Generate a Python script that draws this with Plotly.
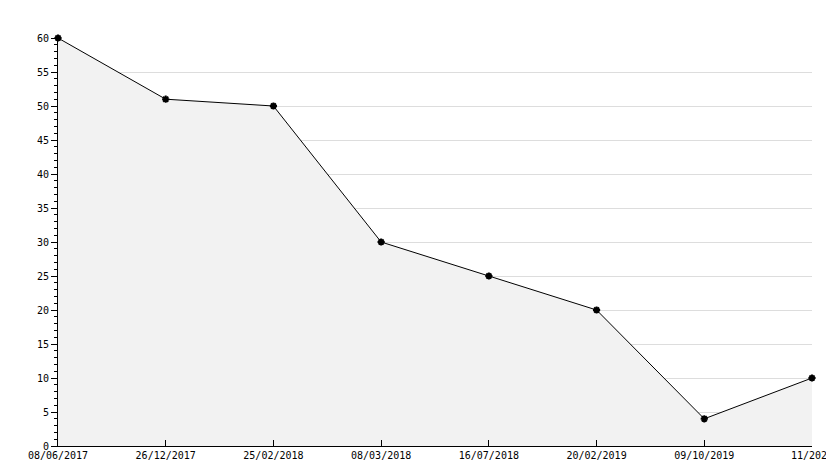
import plotly.graph_objects as go

dates = ["08/06/2017","26/12/2017","25/02/2018","08/03/2018","16/07/2018","20/02/2019","09/10/2019","11/2025"]
values = [60, 51, 50, 30, 25, 20, 4, 10]

fig = go.Figure(go.Scatter(
    x=list(range(len(dates))), y=values, mode="lines+markers",
    line=dict(color="black", width=1),
    marker=dict(symbol="asterisk-open", size=6, color="black", line=dict(width=2, color="black")),
    fill="tozeroy", fillcolor="#f2f2f2", cliponaxis=False))
fig.update_layout(
    width=834, height=468, margin=dict(l=50, r=30, t=30, b=30, autoexpand=False),
    plot_bgcolor="white", paper_bgcolor="white", showlegend=False,
    font=dict(family="DejaVu Sans Mono", size=10, color="black"))
fig.update_xaxes(tickmode="array", tickvals=list(range(len(dates))), ticktext=dates,
                 range=[0, len(dates)-1], showgrid=False, showline=True, linecolor="black",
                 ticks="inside", ticklen=6, tickcolor="black", zeroline=False, automargin=False)
fig.update_yaxes(range=[0, 60], dtick=5, showgrid=True, gridcolor="#dddddd",
                 showline=True, linecolor="black", ticks="outside", ticklen=6,
                 tickcolor="black", zeroline=False, automargin=False,
                 minor=dict(dtick=1, ticks="outside", ticklen=3, tickcolor="black", showgrid=False))
fig.write_html("out.html")
